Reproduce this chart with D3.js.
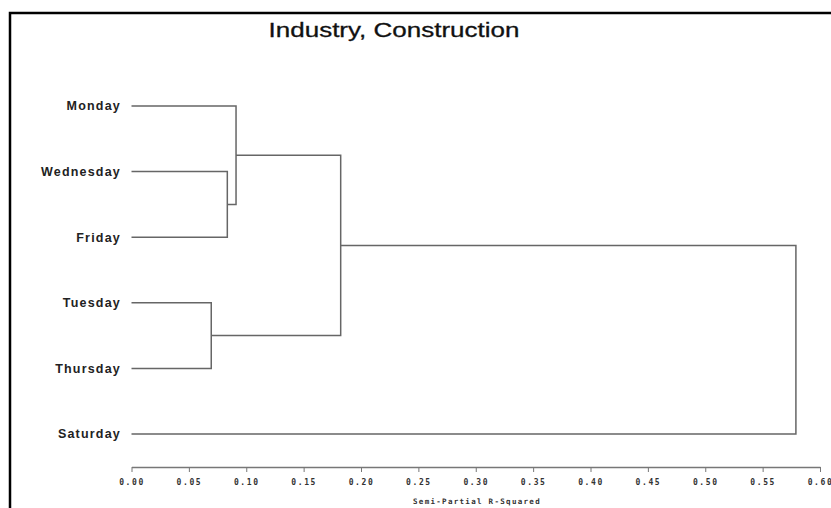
<!DOCTYPE html>
<html>
<head>
<meta charset="utf-8">
<script src="https://cdn.jsdelivr.net/npm/d3@7"></script>
<style>
    body { margin: 0; background: #fff; }
</style>
</head>
<body>
<div id="chart"></div>
<script>
// Leaves in display order, top to bottom
const leaves = ['Monday', 'Wednesday', 'Friday', 'Tuesday', 'Thursday', 'Saturday'];
// Cluster joins: [left, right, semi-partial R-squared]
const joins = [
    ['Wednesday', 'Friday', 0.0835],
    ['Monday', 'CL1', 0.0911],
    ['Tuesday', 'Thursday', 0.0695],
    ['CL2', 'CL3', 0.1823],
    ['CL4', 'Saturday', 0.579]
];
const joinNames = ['CL1', 'CL2', 'CL3', 'CL4', 'CL5'];
const tickValues = [0, 0.05, 0.1, 0.15, 0.2, 0.25, 0.3, 0.35, 0.4, 0.45, 0.5, 0.55, 0.6];

const width = 831;
const height = 508;

const svg = d3.select('#chart')
    .append('svg')
    .attr('width', width)
    .attr('height', height);

// Frame (top and left edges)
svg.append('path')
    .attr('d', 'M10,508 V13 H831')
    .attr('fill', 'none')
    .attr('stroke', '#000')
    .attr('stroke-width', 2.5);

// Title (wide face, so stretch horizontally)
svg.append('text')
    .attr('transform', 'translate(394, 37) scale(1.3, 1)')
    .attr('text-anchor', 'middle')
    .style('font-family', 'Liberation Sans, Arial, sans-serif')
    .style('font-size', '20px')
    .style('fill', '#111')
    .style('stroke', '#111')
    .style('stroke-width', 0.3)
    .text('Industry, Construction');

// Scales
const x = d3.scaleLinear()
    .domain([0, 0.6])
    .range([131.5, 820]);

const y = d3.scalePoint()
    .domain(leaves)
    .range([106, 434]);

// Build tree from joins
const nodes = {};
leaves.forEach(name => { nodes[name] = { name: name, h: 0 }; });
joins.forEach((j, i) => {
    nodes[joinNames[i]] = { name: joinNames[i], h: j[2], children: [nodes[j[0]], nodes[j[1]]] };
});
const root = d3.hierarchy(nodes[joinNames[joinNames.length - 1]]);

// Leaf y from scale, internal y is midpoint of children
root.eachAfter(d => {
    d.py = d.children ? (d.children[0].py + d.children[1].py) / 2 : y(d.data.name);
    d.px = x(d.data.h);
});

// Draw elbows
const lines = svg.append('g')
    .attr('fill', 'none')
    .attr('stroke', '#666')
    .attr('stroke-width', 1.5);

root.descendants().filter(d => d.children).forEach(d => {
    const [a, b] = d.children;
    lines.append('path')
        .attr('d', `M${a.px},${a.py} H${d.px} V${b.py} H${b.px}`);
});

// Leaf labels
svg.append('g')
    .selectAll('text')
    .data(root.leaves())
    .enter()
    .append('text')
    .attr('x', 121)
    .attr('y', d => d.py)
    .attr('dy', '0.35em')
    .attr('text-anchor', 'end')
    .style('font-family', 'Liberation Sans, Arial, sans-serif')
    .style('font-size', '12.5px')
    .style('font-weight', 'bold')
    .style('letter-spacing', '1.2px')
    .style('fill', '#222')
    .text(d => d.data.name);

// X axis
const axis = d3.axisBottom(x)
    .tickValues(tickValues)
    .tickSize(5)
    .tickSizeOuter(0)
    .tickFormat(d3.format('.2f'));

const gAxis = svg.append('g')
    .attr('transform', 'translate(0, 467)')
    .call(axis);

gAxis.select('.domain').attr('stroke', '#777').attr('stroke-width', 1.5);
gAxis.selectAll('.tick line').attr('stroke', '#777');
gAxis.selectAll('.tick text')
    .attr('y', 12)
    .style('font-family', 'DejaVu Sans Mono, monospace')
    .style('font-size', '8px')
    .style('font-weight', 'bold')
    .style('letter-spacing', '1.6px')
    .style('fill', '#333');

// Axis title
svg.append('text')
    .attr('x', 477)
    .attr('y', 504)
    .attr('text-anchor', 'middle')
    .style('font-family', 'DejaVu Sans Mono, monospace')
    .style('font-size', '7.5px')
    .style('font-weight', 'bold')
    .style('letter-spacing', '1.3px')
    .style('fill', '#333')
    .text('Semi-Partial R-Squared');
</script>
</body>
</html>
